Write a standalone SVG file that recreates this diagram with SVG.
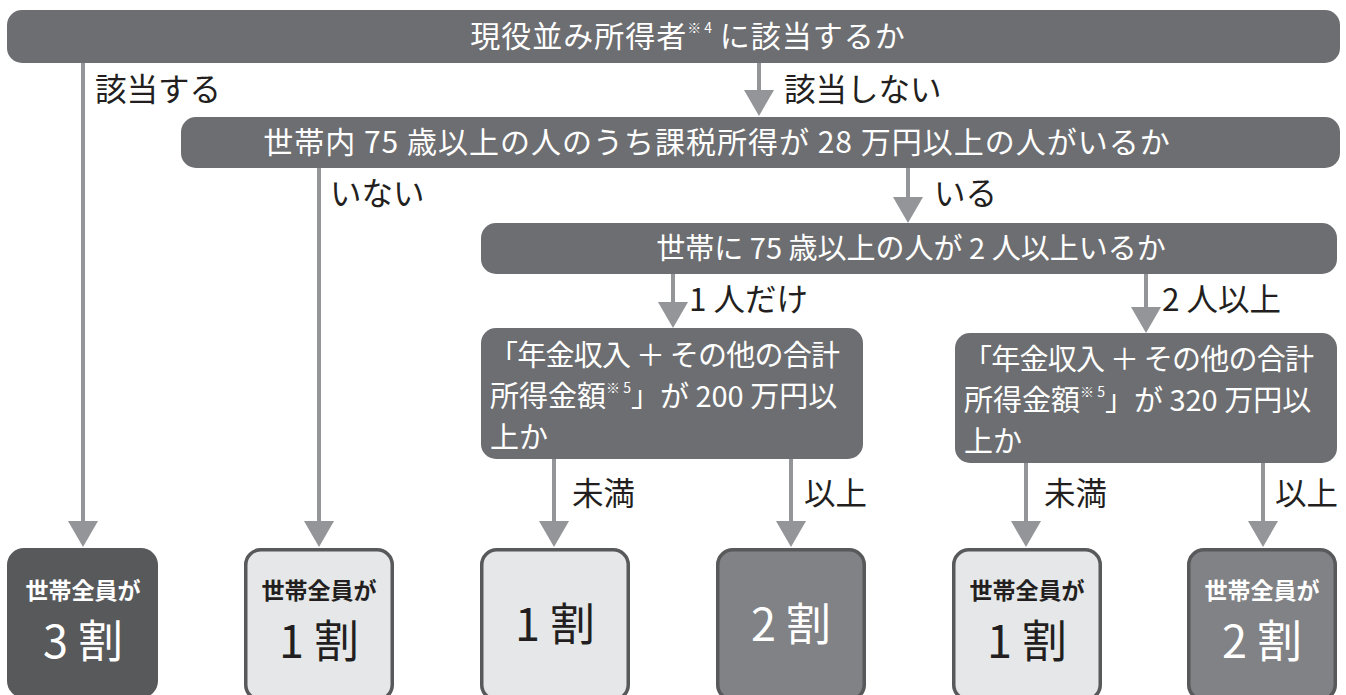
<svg xmlns="http://www.w3.org/2000/svg" width="1346" height="695" viewBox="0 0 1346 695">
<style>
text{font-family:'Noto Sans CJK JP','Noto Sans',sans-serif;}
.bar{fill:#6d6e71;}
.bt{fill:#ffffff;font-size:29px;}
.bw{font-size:30px;letter-spacing:1px;}
.lbl{fill:#231f20;font-size:31.5px;}
.sup{font-size:14px;letter-spacing:0;}
.cn{stroke:#939598;stroke-width:4;fill:none;marker-end:url(#ah);}
.dark{fill:#58595b;}
.mid{fill:#808285;stroke:#58595b;stroke-width:3.5;}
.light{fill:#e6e7e8;stroke:#58595b;stroke-width:3.5;}
.hd{font-size:23px;font-weight:bold;text-anchor:middle;}
.big{font-size:45px;text-anchor:middle;}
.w{fill:#ffffff;}
.k{fill:#231f20;}
</style>
<defs>
<marker id="ah" markerUnits="userSpaceOnUse" markerWidth="26" markerHeight="30" viewBox="0 -15 26 30" refX="1" refY="0" orient="auto">
<path d="M0,-15 L26,0 L0,15 Z" fill="#939598"/>
</marker>
</defs>
<rect width="1346" height="695" fill="#ffffff"/>
<g id="connectors">
<line class="cn" x1="83" y1="63" x2="83" y2="522"/>
<line class="cn" x1="759" y1="63" x2="759" y2="91"/>
<line class="cn" x1="319" y1="168" x2="319" y2="522"/>
<line class="cn" x1="908" y1="168" x2="908" y2="198"/>
<line class="cn" x1="673" y1="274" x2="673" y2="303"/>
<line class="cn" x1="1146" y1="274" x2="1146" y2="308"/>
<line class="cn" x1="554" y1="459" x2="554" y2="522"/>
<line class="cn" x1="791" y1="459" x2="791" y2="522"/>
<line class="cn" x1="1026" y1="463" x2="1026" y2="522"/>
<line class="cn" x1="1263" y1="463" x2="1263" y2="522"/>
</g>
<g id="labels">
<text class="lbl" x="95" y="101">該当する</text>
<text class="lbl" x="784" y="101">該当しない</text>
<text class="lbl" x="330" y="205">いない</text>
<text class="lbl" x="934" y="205">いる</text>
<text class="lbl" x="689" y="311">1 人だけ</text>
<text class="lbl" x="1162" y="311">2 人以上</text>
<text class="lbl" x="572" y="505">未満</text>
<text class="lbl" x="804" y="505">以上</text>
<text class="lbl" x="1044" y="505">未満</text>
<text class="lbl" x="1275" y="505">以上</text>
</g>
<g id="q1">
<rect class="bar" x="7" y="10" width="1333" height="53" rx="15"/>
<text class="bt bw" x="688" y="47" text-anchor="middle">現役並み所得者<tspan class="sup" dy="-14">※ 4</tspan><tspan dy="14"> に該当するか</tspan></text>
</g>
<g id="q2">
<rect class="bar" x="181" y="117" width="1159" height="51" rx="15"/>
<text class="bt bw" x="717" y="153" text-anchor="middle">世帯内 75 歳以上の人のうち課税所得が 28 万円以上の人がいるか</text>
</g>
<g id="q3">
<rect class="bar" x="481" y="223" width="856" height="51" rx="15"/>
<text class="bt" x="911" y="259" text-anchor="middle">世帯に 75 歳以上の人が 2 人以上いるか</text>
</g>
<g id="q4">
<rect class="bar" x="481" y="328" width="382" height="131" rx="15"/>
<text class="bt" x="489" y="366" textLength="351" lengthAdjust="spacing">「年金収入 ＋ その他の合計</text>
<text class="bt" x="490" y="407">所得金額<tspan class="sup" dy="-14">※ 5</tspan><tspan dy="14">」が 200 万円以</tspan></text>
<text class="bt" x="490" y="448">上か</text>
</g>
<g id="q5">
<rect class="bar" x="955" y="333" width="382" height="130" rx="15"/>
<text class="bt" x="963" y="370" textLength="351" lengthAdjust="spacing">「年金収入 ＋ その他の合計</text>
<text class="bt" x="964" y="411">所得金額<tspan class="sup" dy="-14">※ 5</tspan><tspan dy="14">」が 320 万円以</tspan></text>
<text class="bt" x="964" y="452">上か</text>
</g>
<g id="r1">
<rect class="dark" x="7" y="548" width="151" height="150" rx="17"/>
<text class="hd w" x="83" y="599">世帯全員が</text>
<text class="big w" x="83" y="658">3 割</text>
</g>
<g id="r2">
<rect class="light" x="245.75" y="549.75" width="146.5" height="150" rx="15"/>
<text class="hd k" x="319" y="599">世帯全員が</text>
<text class="big k" x="319" y="658">1 割</text>
</g>
<g id="r3">
<rect class="light" x="481.75" y="549.75" width="146.5" height="150" rx="15"/>
<text class="big k" x="555" y="641">1 割</text>
</g>
<g id="r4">
<rect class="mid" x="717.75" y="549.75" width="146.5" height="150" rx="15"/>
<text class="big w" x="791" y="641">2 割</text>
</g>
<g id="r5">
<rect class="light" x="953.75" y="549.75" width="146.5" height="150" rx="15"/>
<text class="hd k" x="1027" y="599">世帯全員が</text>
<text class="big k" x="1027" y="658">1 割</text>
</g>
<g id="r6">
<rect class="mid" x="1188.75" y="549.75" width="146.5" height="150" rx="15"/>
<text class="hd w" x="1262" y="599">世帯全員が</text>
<text class="big w" x="1262" y="658">2 割</text>
</g>
</svg>
